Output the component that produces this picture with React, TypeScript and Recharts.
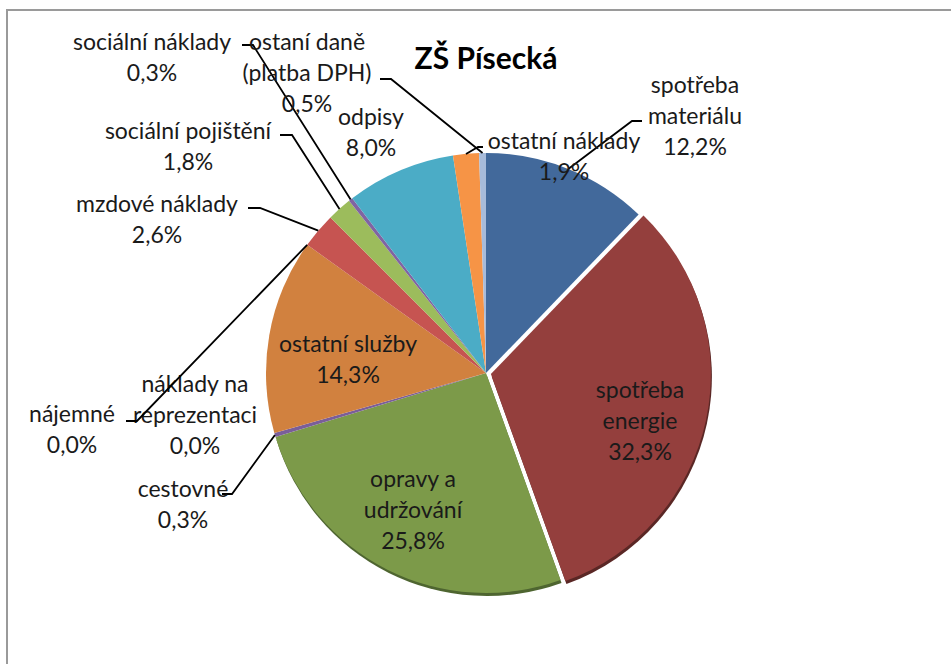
import { PieChart, Pie, Cell } from 'recharts';

const categories = [
  'spotřeba materiálu',
  'spotřeba energie',
  'opravy a udržování',
  'cestovné',
  'náklady na reprezentaci',
  'ostatní služby',
  'nájemné',
  'mzdové náklady',
  'sociální pojištění',
  'sociální náklady',
  'odpisy',
  'ostatní náklady',
  'ostaní daně (platba DPH)',
];
const shares = [12.2, 32.3, 25.8, 0.3, 0.0, 14.3, 0.0, 2.6, 1.8, 0.3, 8.0, 1.9, 0.5];
const labelLines = [
  ['spotřeba', 'materiálu'],
  ['spotřeba', 'energie'],
  ['opravy a', 'udržování'],
  ['cestovné'],
  ['náklady na', 'reprezentaci'],
  ['ostatní služby'],
  ['nájemné'],
  ['mzdové náklady'],
  ['sociální pojištění'],
  ['sociální náklady'],
  ['odpisy'],
  ['ostatní náklady'],
  ['ostaní daně', '(platba DPH)'],
];
const sliceColors = [
  '#42699b', '#943f3d', '#7c9a49', '#7a5e99', '#8064a2', '#d1813f', '#4bacc6',
  '#c65451', '#9cbc5c', '#8064a2', '#4bacc6', '#f69446', '#a7bbda',
];
const title = 'ZŠ Písecká';

const W = 951;
const H = 664;
const CX = 486;
const CY = 373;
const R = 220;
const EXPLODE = 5;
const EXPLODED = 1; // spotřeba energie
const RAD = Math.PI / 180;
const FONT = 'Lato, "Open Sans", sans-serif';
const LINE_GAP = 31;

// label placement relative to pie centre: text centre x, first line y, leader tick [x1, x2, y]
const labelPlacement: { dx: number; dy: number; tick?: number[] }[] = [
  { dx: 209, dy: -289, tick: [156, 146, -252] },
  { dx: 154, dy: 16 },
  { dx: -73, dy: 105 },
  { dx: -303, dy: 115, tick: [-264, -254, 121] },
  { dx: -291, dy: 10 },
  { dx: -138, dy: -30 },
  { dx: -414, dy: 40, tick: [-360, -349, 48] },
  { dx: -329, dy: -170, tick: [-238, -226, -165] },
  { dx: -298, dy: -243, tick: [-206, -194, -238] },
  { dx: -334, dy: -332, tick: [-244, -233, -328] },
  { dx: -115, dy: -257 },
  { dx: 78, dy: -233, tick: [-3, -8, -226] },
  { dx: -179, dy: -332, tick: [-106, -95, -294] },
];

const data = categories.map((name, i) => ({ name, value: shares[i] }));

const total = shares.reduce((a, b) => a + b, 0);
const before = shares.slice(0, EXPLODED).reduce((a, b) => a + b, 0);
const midDeg = 90 - (360 * (before + shares[EXPLODED] / 2)) / total;
const exX = CX + EXPLODE * Math.cos(midDeg * RAD);
const exY = CY - EXPLODE * Math.sin(midDeg * RAD);

const fmt = (v: number) => `${v.toFixed(1).replace('.', ',')}%`;

const renderLabel = (props: any) => {
  const { cx, cy, midAngle, outerRadius, index } = props;
  const p = labelPlacement[index];
  const lines = [...labelLines[index], fmt(shares[index])];
  const x = cx + p.dx;
  let leader = null;
  if (p.tick) {
    const ex = cx + outerRadius * Math.cos(-midAngle * RAD);
    const ey = cy + outerRadius * Math.sin(-midAngle * RAD);
    const [x1, x2, ty] = p.tick;
    leader = (
      <polyline
        points={`${cx + x1},${cy + ty} ${cx + x2},${cy + ty} ${ex},${ey}`}
        fill="none"
        stroke="#000"
        strokeWidth={1.8}
      />
    );
  }
  return (
    <g key={`lbl-${index}`}>
      {leader}
      <text x={x} y={cy + p.dy} textAnchor="middle" fill="#1a1a1a" fontSize={23} fontFamily={FONT}>
        {lines.map((l, j) => (
          <tspan key={j} x={x} y={cy + p.dy + j * LINE_GAP} dominantBaseline="central">
            {l}
          </tspan>
        ))}
      </text>
    </g>
  );
};

const App = () => {
  return (
    <div style={{ position: 'absolute', left: 0, top: 0, width: W, height: H, background: '#fff', overflow: 'hidden' }}>
      <div
        style={{
          position: 'absolute',
          left: 6,
          top: 9,
          width: W,
          height: H,
          borderTop: '2px solid #9a9a9a',
          borderLeft: '2px solid #9a9a9a',
        }}
      />
      <div
        style={{
          position: 'absolute',
          left: CX - 150,
          top: 38,
          width: 300,
          textAlign: 'center',
          fontFamily: FONT,
          fontWeight: 700,
          fontSize: 30,
          lineHeight: '38px',
          color: '#000',
        }}
      >
        {title}
      </div>
      <div style={{ position: 'absolute', left: 0, top: 0 }}>
        <PieChart width={W} height={H} margin={{ top: 0, right: 0, bottom: 0, left: 0 }}>
          {/* bevel shadow under the bottom slices */}
          <Pie
            data={data}
            dataKey="value"
            nameKey="name"
            cx={CX + 1}
            cy={CY + 3}
            outerRadius={R}
            startAngle={90}
            endAngle={-270}
            stroke="none"
            isAnimationActive={false}
          >
            {data.map((d, i) => (
              <Cell key={d.name} fill={i === 2 ? '#4e6530' : 'transparent'} />
            ))}
          </Pie>
          <Pie
            data={data}
            dataKey="value"
            nameKey="name"
            cx={exX + 1}
            cy={exY + 3}
            outerRadius={R}
            startAngle={90}
            endAngle={-270}
            stroke="none"
            isAnimationActive={false}
          >
            {data.map((d, i) => (
              <Cell key={d.name} fill={i === EXPLODED ? '#5a2725' : 'transparent'} />
            ))}
          </Pie>
          {/* exploded slice */}
          <Pie
            data={data}
            dataKey="value"
            nameKey="name"
            cx={exX}
            cy={exY}
            outerRadius={R}
            startAngle={90}
            endAngle={-270}
            stroke="none"
            isAnimationActive={false}
          >
            {data.map((d, i) => (
              <Cell key={d.name} fill={i === EXPLODED ? sliceColors[i] : 'transparent'} />
            ))}
          </Pie>
          <Pie
            data={data}
            dataKey="value"
            nameKey="name"
            cx={CX}
            cy={CY}
            outerRadius={R}
            startAngle={90}
            endAngle={-270}
            stroke="none"
            label={renderLabel}
            labelLine={false}
            isAnimationActive={false}
          >
            {data.map((d, i) => (
              <Cell key={d.name} fill={i === EXPLODED ? 'transparent' : sliceColors[i]} />
            ))}
          </Pie>
        </PieChart>
      </div>
    </div>
  );
};

export default App;
